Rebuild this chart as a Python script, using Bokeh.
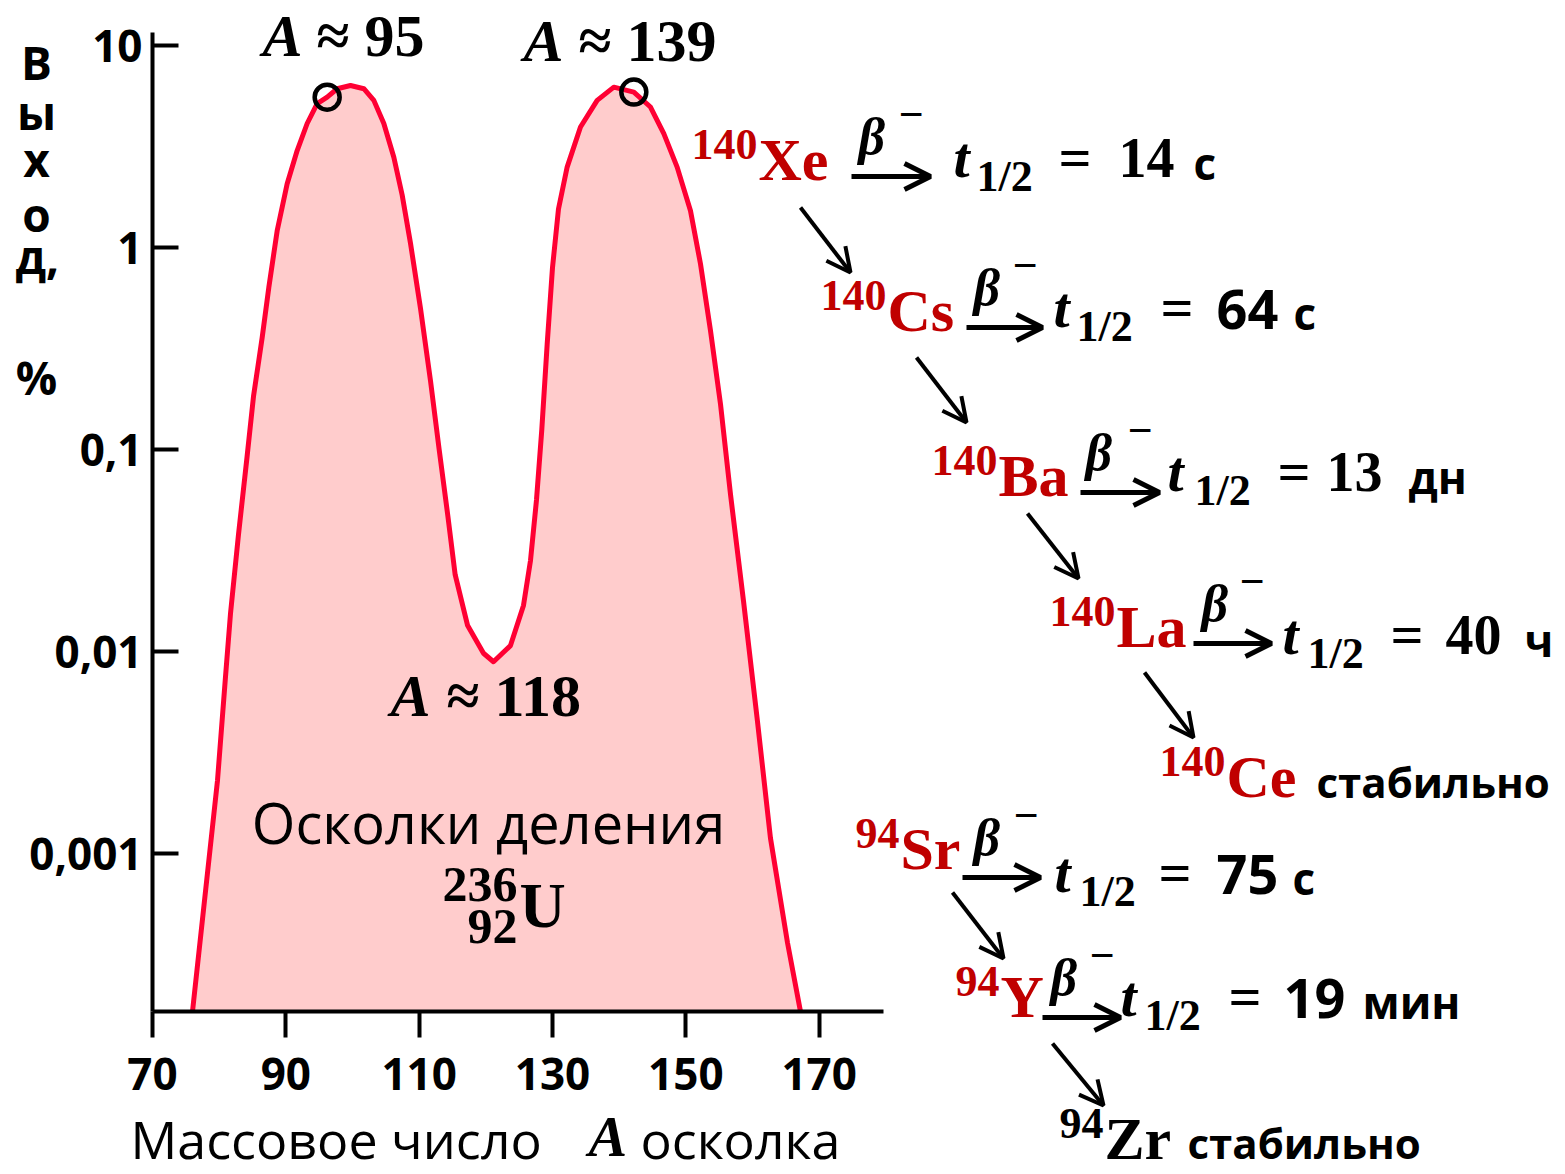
from bokeh.plotting import figure
from bokeh.models import (Range1d, LinearAxis, LogAxis, LogScale, FixedTicker, Grid,
                          CustomJSTickFormatter, Arrow, OpenHead)
from bokeh.core.properties import value
from bokeh.embed import file_html
from bokeh.resources import INLINE

# ---------------- data ----------------
mass_number = [76.0, 79.75, 80.95, 81.7, 82.9, 84.2, 85.15, 86.45, 87.45, 88.7,
               90.2, 91.7, 93.2, 94.7, 96.2, 97.7, 99.7, 101.7, 103.2, 104.7,
               106.2, 107.45, 108.7, 110.2, 111.7, 113.0, 114.3, 115.4, 117.25, 119.65,
               121.15, 123.7, 125.65, 126.7, 127.6, 128.4, 129.2, 130.0, 130.9, 132.2,
               134.2, 136.7, 139.2, 142.2, 144.7, 146.7, 148.7, 150.7, 152.2, 153.7,
               155.2, 156.7, 158.65, 160.75, 162.7, 165.25, 167.2]
yield_pct = [1.65e-4, 0.0023, 0.0075, 0.0154, 0.038, 0.093, 0.183, 0.358, 0.635, 1.21,
             2.07, 3.02, 4.11, 5.16, 5.55, 6.11, 6.34, 6.11, 5.35, 4.11,
             2.80, 1.82, 1.05, 0.50, 0.219, 0.100, 0.047, 0.024, 0.0135, 0.0098,
             0.0089, 0.0107, 0.0169, 0.0282, 0.0562, 0.126, 0.331, 0.794, 1.55, 2.50,
             3.95, 5.35, 6.22, 5.88, 4.96, 3.66, 2.50, 1.52, 0.83, 0.388,
             0.168, 0.060, 0.0178, 0.0045, 0.00119, 3.62e-4, 1.65e-4]
peak_A = [96.2, 142.2]
peak_yield = [5.55, 5.88]
x_ticks = [70, 90, 110, 130, 150, 170]
y_ticks = [0.001, 0.01, 0.1, 1, 10]
y_floor = 1.65e-4
y_top = 11.6
x_end = 179.6

chain_140 = ["Xe", "Cs", "Ba", "La", "Ce"]
chain_94 = ["Sr", "Y", "Zr"]
half_lives = ["14", "64", "13", "40", "75", "19"]
units = ["с", "с", "дн", "ч", "с", "мин"]

# ---------------- helpers for annotation placement ----------------
PX_PER_A = 133.33 / 20.0
PX_PER_DEC = 202.0
BASELINE_FIX = 0.36   # renderer places "alphabetic" text ~0.36em low


def ax(px):
    return 70 + (px - 152) / PX_PER_A


def ay(py):
    return 10 ** (1 - (py - 45) / PX_PER_DEC)


SERIF = "Liberation Serif"
SANS = "Open Sans"
RED = "#C00000"

p = figure(width=1565, height=1174,
           x_range=Range1d(ax(0), ax(1565)), y_range=Range1d(ay(1174), ay(0)),
           y_axis_type="log", x_axis_location=None, y_axis_location=None,
           toolbar_location=None, output_backend="svg", min_border=0)
p.y_scale = LogScale()
p.outline_line_color = None
p.background_fill_color = "white"
p.border_fill_color = "white"
for g in p.select(type=Grid):
    g.visible = False

# ---------------- curve ----------------
p.varea(x=mass_number, y1=y_floor, y2=yield_pct, fill_color="#FFCCCC")
p.line(mass_number, yield_pct, line_color="#FF0033", line_width=5, line_join="round")
p.scatter(peak_A, peak_yield, marker="circle", size=25, fill_color=None,
          line_color="black", line_width=4.5)

# ---------------- axes ----------------
xaxis = LinearAxis(fixed_location=y_floor, bounds=(70, x_end),
                   ticker=FixedTicker(ticks=x_ticks))
xaxis.axis_line_width = 4
xaxis.major_tick_line_width = 4
xaxis.major_tick_in = 0
xaxis.major_tick_out = 26
xaxis.minor_tick_line_color = None
xaxis.major_label_text_font = SANS
xaxis.major_label_text_font_style = "bold"
xaxis.major_label_text_font_size = "44px"
xaxis.major_label_text_color = "black"
xaxis.major_label_standoff = 20
p.add_layout(xaxis, "below")

yaxis = LogAxis(fixed_location=70, bounds=(y_floor, y_top),
                ticker=FixedTicker(ticks=y_ticks),
                formatter=CustomJSTickFormatter(code="return tick.toString().replace('.', ',');"))
yaxis.axis_line_width = 4
yaxis.major_tick_line_width = 4
yaxis.major_tick_in = 26
yaxis.major_tick_out = 0
yaxis.minor_tick_line_color = None
yaxis.major_label_text_font = SANS
yaxis.major_label_text_font_style = "bold"
yaxis.major_label_text_font_size = "44px"
yaxis.major_label_text_color = "black"
yaxis.major_label_standoff = 10
p.add_layout(yaxis, "left")

for ax_ in (xaxis, yaxis):
    ax_.axis_line_color = "black"
    ax_.major_tick_line_color = "black"


def txt(s, px, py, size, font=SERIF, style="bold", color="black", align="left"):
    py_adj = py - BASELINE_FIX * size
    p.text(x=[ax(px)], y=[ay(py_adj)], text=[s], text_font=value(font),
           text_font_size=f"{size}px", text_font_style=style, text_color=color,
           text_align=align, text_baseline="alphabetic")


def arrow(x0, y0, x1, y1, size=24, lw=4):
    p.add_layout(Arrow(end=OpenHead(size=size, line_width=lw, line_color="black"),
                       x_start=ax(x0), y_start=ay(y0), x_end=ax(x1), y_end=ay(y1),
                       line_width=lw, line_color="black"))


# y-axis title (stacked letters)
for ch, base in zip(["В", "ы", "х", "о"], [78, 128, 175, 230]):
    txt(ch, 36, base, 46, font=SANS, align="center")
txt("д,", 15, 272, 46, font=SANS)
txt("%", 36, 393, 46, font=SANS, align="center")

# x-axis title
txt("Массовое число", 130, 1157, 52, font=SANS, style="normal")
txt("A", 588, 1157, 58, style="bold italic")
txt("осколка", 640, 1157, 52, font=SANS, style="normal")

# peak / valley labels
txt("A", 302, 57, 60, style="bold italic", align="right")
txt("≈ 95", 316, 57, 60)
txt("A", 563, 62, 60, style="bold italic", align="right")
txt("≈ 139", 578, 62, 60)
txt("A", 430, 717, 60, style="bold italic", align="right")
txt("≈ 118", 446, 717, 60)

# fission fragments label
txt("Осколки деления", 488, 842, 56, font=SANS, style="normal", align="center")
txt("236", 517, 902, 50, align="right")
txt("92", 517, 944, 50, align="right")
txt("U", 519, 928, 64)

# ---------------- decay chains ----------------
rows = [
    # mass, symbol, sym_x, sym_base, beta_x, minus_x, (ax0, ax1, ay), t_x, t_base, sub_x, eq_x, val_font, val_x, unit_x, index
    ("140", chain_140[0], 758, 181, 858, 898, (851, 930, 176), 953, 178, 976, 1058, SERIF, 1118, 1193, 0),
    ("140", chain_140[1], 887, 332, 973, 1012, (966, 1042, 327), 1053, 328, 1076, 1160, SANS, 1216, 1293, 1),
    ("140", chain_140[2], 998, 497, 1085, 1127, (1080, 1159, 492), 1167, 492, 1194, 1277, SERIF, 1326, 1408, 2),
    ("140", chain_140[3], 1116, 648, 1201, 1239, (1193, 1271, 643), 1282, 655, 1307, 1390, SERIF, 1445, 1524, 3),
    ("94", chain_94[0], 900, 870, 973, 1013, (962, 1040, 877), 1054, 893, 1079, 1158, SANS, 1216, 1292, 4),
    ("94", chain_94[1], 1000, 1018, 1050, 1089, (1042, 1120, 1017), 1120, 1017, 1144, 1228, SANS, 1283, 1362, 5),
]

for (mass, sym, sym_x, sym_base, beta_x, minus_x, arr, t_x, t_base,
     sub_x, eq_x, val_font, val_x, unit_x, k) in rows:
    txt(mass, sym_x - 1, sym_base - 21, 44, color=RED, align="right")
    txt(sym, sym_x, sym_base, 60, color=RED)
    ax0, ax1, ayy = arr
    txt("β", beta_x, ayy - 21, 52, style="bold italic")
    txt("−", minus_x, ayy - 46, 44)
    arrow(ax0, ayy, ax1, ayy, size=26, lw=5)
    txt("t", t_x, t_base, 58, style="bold italic")
    txt("1/2", sub_x, t_base + 14, 44)
    txt("=", eq_x, t_base, 58)
    txt(half_lives[k], val_x, t_base, 54 if val_font == SANS else 56, font=val_font)
    txt(units[k], unit_x, t_base, 44, font=SANS)

# stable end products
txt("140", 1225, 777, 44, color=RED, align="right")
txt(chain_140[4], 1226, 798, 60, color=RED)
txt("стабильно", 1316, 796, 42, font=SANS)
txt("94", 1103, 1139, 44, align="right")
txt(chain_94[2], 1104, 1160, 60)
txt("стабильно", 1187, 1157, 42, font=SANS)

# diagonal decay arrows
for (x0, y0, x1, y1) in [(800, 207, 850, 272), (916, 357, 966, 422), (1027, 513, 1078, 578),
                         (1144, 672, 1193, 737), (952, 892, 1003, 958), (1052, 1043, 1103, 1105)]:
    arrow(x0, y0, x1, y1, size=24, lw=4)

open("out.html", "w").write(file_html(p, INLINE))
